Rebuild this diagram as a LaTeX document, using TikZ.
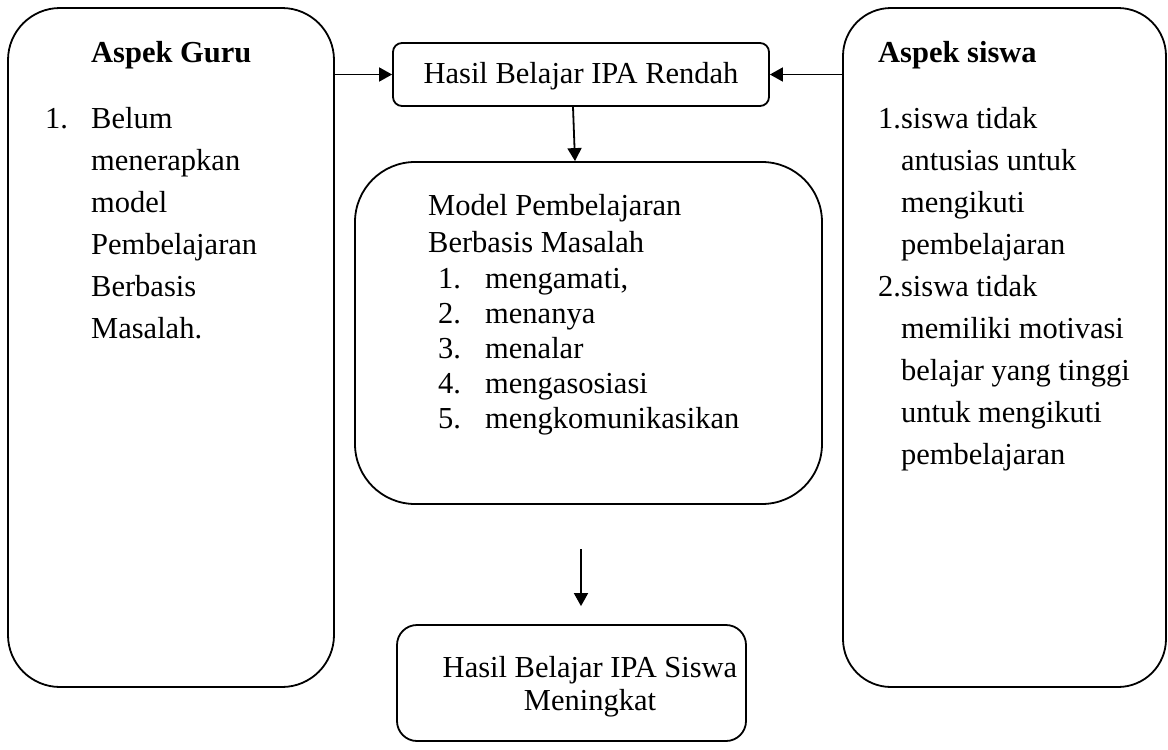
\documentclass[tikz,border=0pt]{standalone}
\usepackage{fontspec}
\setmainfont{Liberation Serif}
\usetikzlibrary{arrows.meta}
\begin{document}
\begin{tikzpicture}[x=1pt,y=-1pt,
  box/.style={draw,line width=1.8pt,inner sep=0pt,minimum width=#1},
  txt/.style={inner sep=0pt,anchor=base west,align=left,font=\fontsize{30.5}{42}\selectfont},
  ctxt/.style={inner sep=0pt,anchor=base,align=center,font=\fontsize{30.5}{33}\selectfont},
  arr/.style={line width=1.8pt,-{Triangle[length=13pt,width=14pt]}}]
\useasboundingbox (0,0) rectangle (1168,750);
% boxes
\node[box=326pt,minimum height=679pt,rounded corners=52pt] (L) at (171,347.5) {};
\node[box=323pt,minimum height=679pt,rounded corners=48pt] (R) at (1004.5,347.5) {};
\node[box=376pt,minimum height=63pt,rounded corners=9pt] (T) at (581,74.5) {};
\node[box=467pt,minimum height=342pt,rounded corners=60pt] (M) at (588.5,333) {};
\node[box=349pt,minimum height=116pt,rounded corners=20pt] (B) at (571.5,683) {};
% left text (base anchor = last line's baseline)
\node[txt,font=\fontsize{30.5}{42}\selectfont\bfseries] (Lh) at (91,62) {Aspek Guru};
\node[txt] (Ln) at (45,128) {1.};
\node[txt] (Lt) at (91,338) {Belum\\menerapkan\\model\\Pembelajaran\\Berbasis\\Masalah.};
% right text
\node[txt,font=\fontsize{30.5}{42}\selectfont\bfseries] (Rh) at (878,62) {Aspek siswa};
\node[txt] (Rt) at (878,464) {1.siswa tidak\\\hphantom{1.}antusias untuk\\\hphantom{1.}mengikuti\\\hphantom{1.}pembelajaran\\2.siswa tidak\\\hphantom{2.}memiliki motivasi\\\hphantom{2.}belajar yang tinggi\\\hphantom{2.}untuk mengikuti\\\hphantom{2.}pembelajaran};
% top text
\node[ctxt] (Tt) at (581,83) {Hasil Belajar IPA Rendah};
% middle text
\node[txt,font=\fontsize{30.5}{37}\selectfont] (Mh) at (428,252) {Model Pembelajaran\\Berbasis Masalah};
\node[txt,font=\fontsize{30.5}{35}\selectfont] (Mn) at (438,428) {1.\\2.\\3.\\4.\\5.};
\node[txt,font=\fontsize{30.5}{35}\selectfont] (Mi) at (485,428) {mengamati,\\menanya\\menalar\\mengasosiasi\\mengkomunikasikan};
% bottom text
\node[ctxt] (Bt) at (590,710) {Hasil Belajar IPA Siswa\\Meningkat};
% connectors
\draw[arr] (L.east |- T.west) -- (T.west);
\draw[arr] (R.west |- T.east) -- (T.east);
\draw[arr] ([xshift=-8pt]T.south) -- ([xshift=-13.5pt]M.north);
\coordinate (a2) at (581,549);
\draw[arr,shorten >=18pt] (a2) -- (a2 |- B.north);
\end{tikzpicture}
\end{document}
